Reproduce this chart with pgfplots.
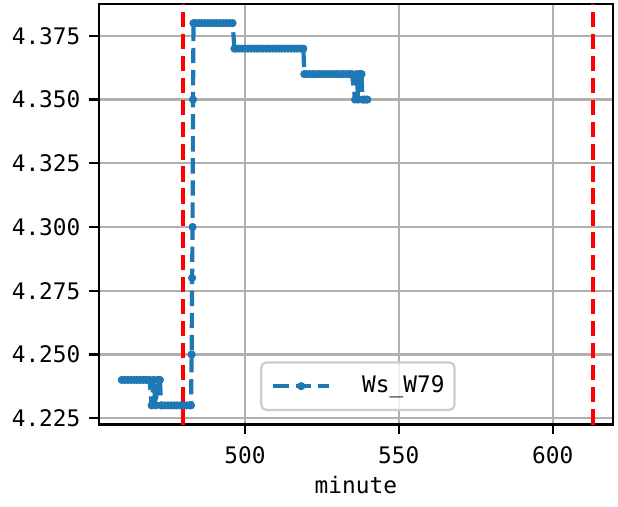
\documentclass[border=0pt]{standalone}
\usepackage{pgfplots}
\pgfplotsset{compat=1.18}
\usepackage{fontspec}
\setmainfont{DejaVu Sans Mono}
\definecolor{mplblue}{HTML}{1F77B4}
\definecolor{gridgray}{HTML}{B0B0B0}
\definecolor{legedge}{HTML}{CCCCCC}
\begin{document}
\begin{tikzpicture}[font=\fontsize{8.2}{10}\selectfont]
\path[use as bounding box] (-35.64pt,-29.34pt) rectangle (186.83pt,152.82pt);
\begin{axis}[
  at={(0,0)}, anchor=south west,
  scale only axis, width=184.93pt, height=151.38pt,
  xmin=452.6, xmax=619.5, ymin=4.2225, ymax=4.3875,
  xtick={500,550,600}, xticklabels={500,550,600},
  ytick={4.225,4.25,4.275,4.3,4.325,4.35,4.375},
  yticklabels={4.225,4.250,4.275,4.300,4.325,4.350,4.375},
  tick pos=left, tick align=outside, major tick length=3.5pt,
  every tick/.style={black, line width=0.8pt},
  axis line style={line width=0.8pt},
  grid=major, major grid style={gridgray, line width=0.8pt},
  xticklabel style={anchor=north, inner sep=0pt, yshift=-4.2pt},
  yticklabel style={anchor=east, inner sep=0pt, xshift=-3.0pt},
  xlabel={minute},
  xlabel style={at={(axis description cs:0.5,0)}, anchor=base, inner sep=0pt, yshift=-25pt},
  legend style={at={(axis description cs:0.504,0)}, anchor=south, yshift=4.86pt,
    draw=legedge, line width=0.8pt, rounded corners=1.8pt, fill=white, fill opacity=0.8,
    draw opacity=1, text opacity=1, inner xsep=3.6pt, inner ysep=4.8pt,
    nodes={inner sep=0pt, text height=6pt, text depth=1.5pt}},
  legend image code/.code={\draw[mark repeat=2, mark phase=2, #1] plot coordinates {(0pt,0pt) (10pt,0pt) (20pt,0pt)};},
]
\addplot[mplblue, line width=1.5pt, dash pattern=on 5.55pt off 2.4pt,
  mark=*, mark size=1.3pt, mark options={solid, line width=0.3pt, fill=mplblue, fill opacity=1}]
coordinates {
(460,4.24)(461,4.24)(462,4.24)(463,4.24)(464,4.24)(465,4.24)(466,4.24)(467,4.24)(468,4.24)(469,4.24)
(469.7,4.23)(470.3,4.24)(471,4.23)(471.6,4.24)(472.4,4.24)(472.8,4.23)
(473,4.23)(474,4.23)(475,4.23)(476,4.23)(477,4.23)(478,4.23)(479,4.23)(480,4.23)(481,4.23)(482,4.23)(482.5,4.23)
(482.7,4.25)(482.85,4.28)(483,4.30)(483.15,4.35)(483.3,4.38)
(484,4.38)(485,4.38)(486,4.38)(487,4.38)(488,4.38)(489,4.38)(490,4.38)(491,4.38)(492,4.38)(493,4.38)(494,4.38)(495,4.38)(496,4.38)
(496.6,4.37)(497,4.37)(498,4.37)(499,4.37)(500,4.37)(501,4.37)(502,4.37)(503,4.37)(504,4.37)(505,4.37)(506,4.37)(507,4.37)
(508,4.37)(509,4.37)(510,4.37)(511,4.37)(512,4.37)(513,4.37)(514,4.37)(515,4.37)(516,4.37)(517,4.37)(518,4.37)(519,4.37)
(519.3,4.36)(520,4.36)(521,4.36)(522,4.36)(523,4.36)(524,4.36)(525,4.36)(526,4.36)(527,4.36)(528,4.36)(529,4.36)(530,4.36)
(531,4.36)(532,4.36)(533,4.36)(534,4.36)(534.8,4.36)
(535.8,4.35)(536.3,4.36)(536.8,4.35)(537.3,4.36)(537.9,4.36)(538.2,4.35)(538.8,4.35)(539.3,4.35)(539.8,4.35)
};
\addlegendentry{\hspace*{11.2pt}Ws\_W79}
\addplot[red, line width=1.5pt, dash pattern=on 5.55pt off 2.4pt, forget plot] coordinates {(480,4.2225) (480,4.3875)};
\addplot[red, line width=1.5pt, dash pattern=on 5.55pt off 2.4pt, forget plot] coordinates {(613,4.2225) (613,4.3875)};
\end{axis}
\end{tikzpicture}
\end{document}
